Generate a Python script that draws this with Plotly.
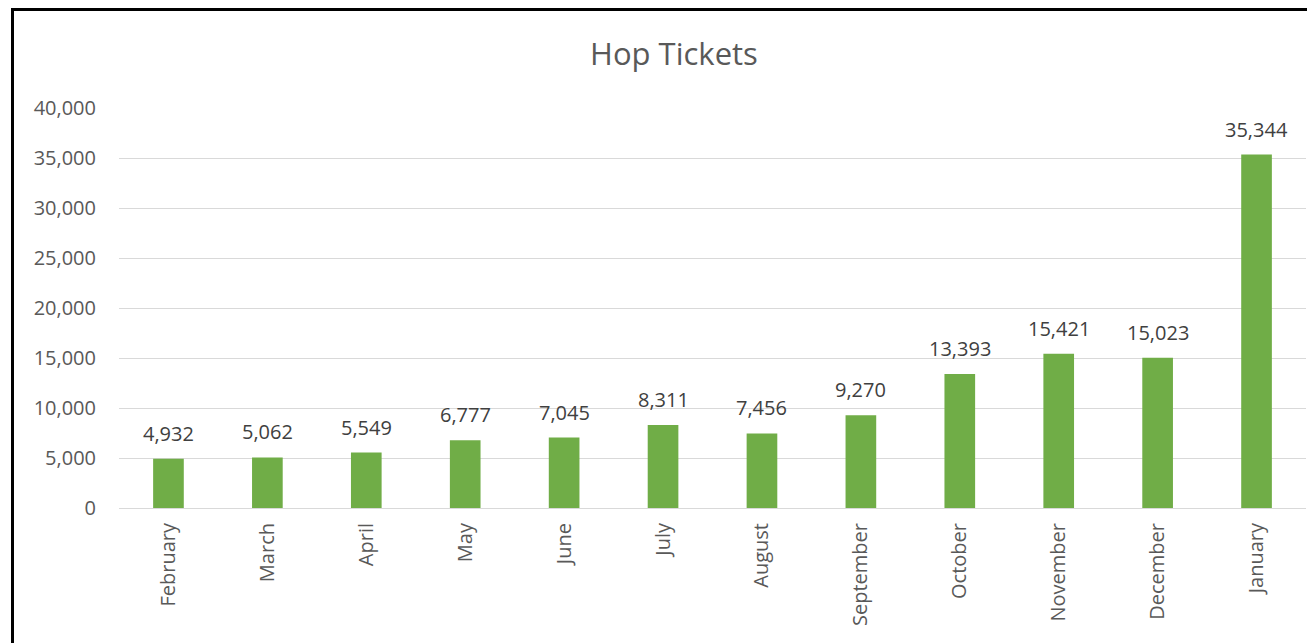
import plotly.graph_objects as go

months = ["February", "March", "April", "May", "June", "July", "August",
          "September", "October", "November", "December", "January"]
tickets = [4932, 5062, 5549, 6777, 7045, 8311, 7456, 9270, 13393, 15421, 15023, 35344]
y_ticks = [0, 5000, 10000, 15000, 20000, 25000, 30000, 35000, 40000]
y_tick_labels = [f"{v:,}" for v in y_ticks]

FONT = "'Open Sans', sans-serif"

fig = go.Figure(go.Bar(
    x=months, y=tickets,
    marker=dict(color="#70AD47", line=dict(width=0)),
    cliponaxis=False,
    hoverinfo="x+y",
))

# data labels placed through the axes
for m, v in zip(months, tickets):
    fig.add_annotation(x=m, y=v, xref="x", yref="y", text=f"{v:,}",
                       showarrow=False, yanchor="bottom", yshift=10,
                       font=dict(family=FONT, size=20, color="#404040"))

# page body has an 8px margin: figure is sized/placed to compensate
W, H = 1307, 635
L, R, T, B = 111, 9, 99, 135
pw, ph = W - L - R, H - T - B

xl = (4.5 - L) / pw
yt = 1 + (T - 1.5) / ph
yb = -(B + 5) / ph
xr = (W + 5 - L) / pw
title_x = (666 - L) / pw

fig.update_layout(
    width=W, height=H,
    margin=dict(l=L, r=R, t=T, b=B, autoexpand=False),
    paper_bgcolor="white", plot_bgcolor="white",
    bargap=0.69,
    showlegend=False,
    title=dict(text="Hop Tickets", x=title_x, xanchor="center", y=1 - 46 / H, yanchor="middle",
               xref="paper",
               font=dict(family=FONT, size=31, color="#595959")),
    font=dict(family=FONT, color="#595959"),
    xaxis=dict(
        tickangle=-90, tickfont=dict(size=20, color="#595959"),
        showgrid=False, showline=True, linecolor="#D9D9D9", linewidth=1,
        ticks="", ticklabelstandoff=6,
    ),
    yaxis=dict(
        range=[0, 40100], tickvals=y_ticks, ticktext=y_tick_labels,
        tickfont=dict(size=20, color="#595959"),
        showgrid=True, gridcolor="#D9D9D9", gridwidth=1,
        zeroline=False, showline=False, ticks="", ticklabelstandoff=22,
    ),
    shapes=[
        dict(type="line", xref="paper", yref="paper", x0=xl, x1=xl, y0=yb, y1=yt + 0.004,
             line=dict(color="black", width=3)),
        dict(type="line", xref="paper", yref="paper", x0=xl, x1=xr, y0=yt, y1=yt,
             line=dict(color="black", width=3)),
    ],
)

fig.write_html("out.html")
